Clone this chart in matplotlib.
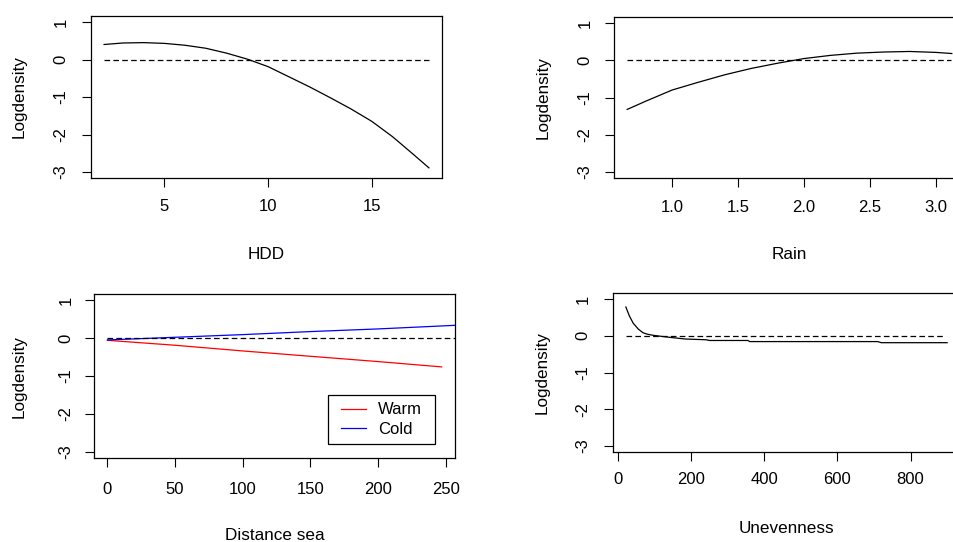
import matplotlib
matplotlib.use('Agg')
import matplotlib.pyplot as plt
from matplotlib.patches import Rectangle

plt.rcParams['font.family'] = ['Liberation Sans', 'DejaVu Sans']
plt.rcParams['font.size'] = 12
plt.rcParams['axes.unicode_minus'] = False

# data
hdd_x = [2.1, 3, 4, 5, 6, 7, 8, 9, 10, 11, 12, 13, 14, 15, 16, 17, 17.75]
hdd_y = [0.40, 0.44, 0.45, 0.43, 0.38, 0.30, 0.17, 0.01, -0.19, -0.46, -0.73, -1.02, -1.32, -1.65, -2.06, -2.53, -2.89]

rain_x = [0.66, 0.8, 1.0, 1.2, 1.4, 1.6, 1.8, 2.0, 2.2, 2.4, 2.6, 2.8, 3.0, 3.12]
rain_y = [-1.32, -1.10, -0.80, -0.59, -0.39, -0.22, -0.08, 0.045, 0.13, 0.19, 0.22, 0.235, 0.21, 0.18]

warm_x = [0, 50, 100, 150, 200, 247]
warm_y = [-0.06, -0.19, -0.34, -0.48, -0.62, -0.76]
cold_x = [0, 50, 100, 150, 200, 260]
cold_y = [-0.05, 0.02, 0.09, 0.17, 0.24, 0.34]

unev_x = [21, 30, 41, 55, 68, 80, 96, 120, 146, 183, 240, 250, 355, 360, 710, 720, 900]
unev_y = [0.78, 0.55, 0.34, 0.18, 0.08, 0.04, 0.01, -0.02, -0.05, -0.09, -0.11, -0.13, -0.13, -0.16, -0.16, -0.19, -0.19]

yticks = [-3, -2, -1, 0, 1]
hdd_ticks = [5, 10, 15]
rain_ticks = [1.0, 1.5, 2.0, 2.5, 3.0]
dist_ticks = [0, 50, 100, 150, 200, 250]
unev_ticks = [0, 200, 400, 600, 800]

W, H = 954, 542
fig = plt.figure(figsize=(W / 100, H / 100), dpi=100)


def panel(box, xlim, xticks, xlabel, ylab_x, xlab_y, xpad, ypad, fmt='%g'):
    # box in pixels: left, top, right, bottom
    l, t, r, b = box
    ax = fig.add_axes([l / W, 1 - b / H, (r - l) / W, (b - t) / H])
    ax.set_xlim(xlim)
    ax.set_ylim(-3.16, 1.16)
    ax.set_xticks(xticks)
    ax.set_xticklabels([fmt % v for v in xticks])
    ax.set_yticks(yticks)
    ax.set_yticklabels([str(v) for v in yticks])
    for lab in ax.get_yticklabels():
        lab.set_rotation(90)
        lab.set_va('center')
    ax.tick_params(axis='x', length=6.7, width=0.8, pad=xpad, labelsize=12)
    ax.tick_params(axis='y', length=6.7, width=0.8, pad=ypad, labelsize=12)
    for s in ax.spines.values():
        s.set_linewidth(0.9)
    fig.text(ylab_x / W, 1 - ((t + b) / 2) / H, 'Logdensity', rotation=90,
             ha='center', va='center', fontsize=12.3)
    fig.text(((l + r) / 2) / W, 1 - xlab_y / H, xlabel, ha='center',
             va='baseline', fontsize=12.3)
    return ax


dash = (0, (4.5, 2.6))

ax1 = panel((91, 16, 442, 178), (1.47, 18.38), hdd_ticks, 'HDD', 19.5, 259, 8.5, 9.4)
ax1.plot(hdd_x, hdd_y, color='black', lw=0.9)
ax1.plot([hdd_x[0], hdd_x[-1]], [0, 0], color='black', lw=0.9, ls=dash)

ax2 = panel((614, 17, 965, 178), (0.56, 3.22), rain_ticks, 'Rain', 543, 259, 9, 8.7, fmt='%.1f')
ax2.plot(rain_x, rain_y, color='black', lw=0.9)
ax2.plot([rain_x[0], 3.116], [0, 0], color='black', lw=0.9, ls=dash)

ax3 = panel((94, 294, 455, 458), (-9.9, 256.9), dist_ticks, 'Distance sea', 19.3, 540, 10.4, 8.2)
ax3.plot(warm_x, warm_y, color='red', lw=0.9, label='Warm')
ax3.plot(cold_x, cold_y, color='blue', lw=0.9, label='Cold')
ax3.plot([0, 260], [0, 0], color='black', lw=0.9, ls=dash)
# legend box drawn by hand, R-style
ax3.add_patch(Rectangle((0.649, 0.0835), 0.2956, 0.3005, transform=ax3.transAxes,
                        facecolor='white', edgecolor='black', lw=0.9, zorder=4))
leg = ax3.legend(loc='center', bbox_to_anchor=(0.797, 0.234), frameon=False,
                 borderpad=0, labelspacing=0.27, handlelength=1.5,
                 handletextpad=0.7, borderaxespad=0, fontsize=12)
leg.set_zorder(5)

ax4 = panel((613, 293, 960, 452), (-14.2, 935.2), unev_ticks, 'Unevenness', 542.3, 533, 7.8, 9.4)
ax4.plot(unev_x, unev_y, color='black', lw=0.9)
ax4.plot([unev_x[0], 893], [0, 0], color='black', lw=0.9, ls=dash)

fig.savefig('out.png', dpi=100)
